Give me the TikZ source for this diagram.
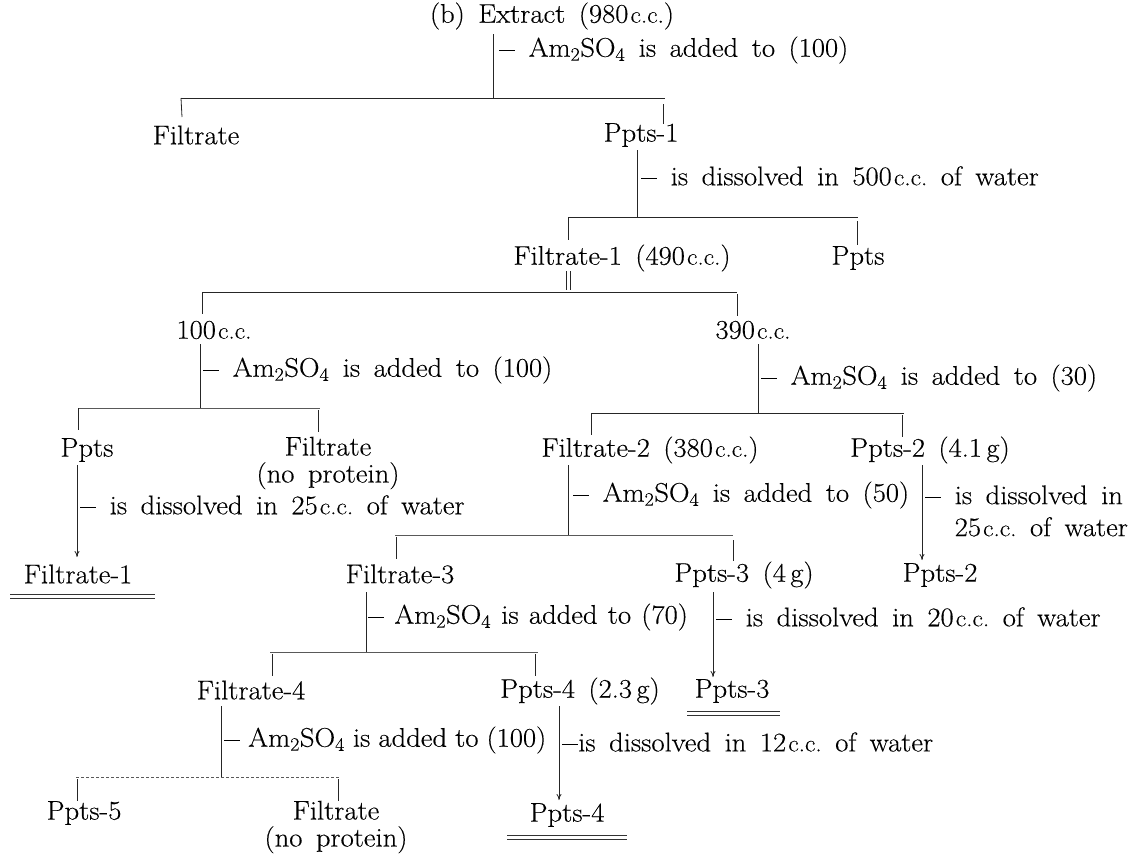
\documentclass[tikz,border=0pt]{standalone}
\usepackage{fontspec}
\setmainfont{Latin Modern Roman}[FakeStretch=1.06,FakeBold=0.3]
\usetikzlibrary{arrows.meta}
\newcommand\myCC{\hspace{0.08em}{\fontsize{24}{24}\selectfont c.c.}}
\newcommand\amso{Am\textsubscript{2}SO\textsubscript{4}}
\newcommand\dsh{\rule[0.24em]{0.6em}{0.6pt}}
\newcommand\myfont{\fontsize{27}{27}\selectfont\spaceskip=0.5em plus 0.1em minus 0.1em\relax}
\newcommand\tightsp{\spaceskip=0.3em plus 0.05em minus 0.05em\relax}
\newcommand\midsp{\spaceskip=0.38em plus 0.05em minus 0.05em\relax}
\begin{document}
\begin{tikzpicture}[x=1pt,y=-1pt,
  every node/.style={inner sep=0pt,outer sep=0pt,font=\myfont},
  txt/.style={anchor=center},
  lbl/.style={anchor=west},
  ln/.style={line width=0.8pt,black!85},
  fade/.style={line width=0.8pt,black!65},
  arr/.style={line width=0.8pt,black!85,-{To[length=6pt,width=5pt]}},
  ul/.style={line width=0.7pt,black!80}]
\useasboundingbox (0,0) rectangle (1137,857);
% ---------- texts ----------
\node[txt] (ext) at (552,16) {(b) Extract (980\myCC)};
\node[lbl] (l0) at (499,50) {\dsh\ \amso\ is added to (100)};
\node[txt] (filt0) at (196,135) {Filtrate};
\node[txt] (p1) at (641,135) {Ppts-1};
\node[lbl] (l1) at (641,176) {\dsh\ is dissolved in 500\myCC\ of water};
\node[txt] (f1) at (622,258) {Filtrate-1 (490\myCC)};
\node[txt] (pp) at (858,258) {Ppts};
\node[txt] (c100) at (214,330) {100\myCC};
\node[txt] (c390) at (753,330) {390\myCC};
\node[lbl] (l3a) at (203,370) {\dsh\ \amso\ is added to (100)};
\node[lbl] (l3b) at (761,378) {\dsh\ \amso\ is added to (30)};
\node[txt] (ppl) at (87,450) {Ppts};
\node[txt,align=center] (fnp) at (328,463) {Filtrate\\(no protein)};
\node[txt] (f2) at (650,450) {Filtrate-2 (380\myCC)};
\node[txt] (p2) at (930,450) {Ppts-2 (4.1\,g)};
\node[lbl] (l4a) at (80,505) {\dsh\ is dissolved in 25\myCC\ of water};
\node[lbl] (l4b) at (573,495) {\dsh\ \amso\ is added to (50)};
\node[lbl,align=left] (l4c) at (925,511) {\dsh\ is dissolved in\\[5pt]\hphantom{\dsh\ }25\myCC\ of water};
\node[txt] (f1b) at (78,574) {Filtrate-1};
\node[txt] (f3) at (400,574) {Filtrate-3};
\node[txt] (p3) at (744,575) {Ppts-3 (4\,g)};
\node[txt] (p2b) at (940,575) {Ppts-2};
\node[lbl] (l5a) at (368,617) {\midsp\dsh\ \amso\ is added to (70)};
\node[lbl] (l5b) at (716,617) {\dsh\ is dissolved in 20\myCC\ of water};
\node[txt] (f4) at (251,690) {Filtrate-4};
\node[txt] (p4) at (580,691) {Ppts-4 (2.3\,g)};
\node[txt] (p3b) at (732,691) {Ppts-3};
\node[lbl] (l6a) at (224,740) {\tightsp\dsh\ \amso\ is added to (100)};
\node[lbl] (l6b) at (562,742) {\dsh is dissolved in 12\myCC\ of water};
\node[txt] (p5) at (84,813) {Ppts-5};
\node[txt,align=center] (fnp2) at (336,827) {Filtrate\\(no protein)};
\node[txt] (p4b) at (567,815) {Ppts-4};
% ---------- coordinates ----------
\coordinate (e1) at (493,34);   \coordinate (e2) at (493,98);
\coordinate (b0a) at (181,98);  \coordinate (b0b) at (665,98);
\coordinate (t0a) at (182,117); \coordinate (t0b1) at (663,104); \coordinate (t0b2) at (663,124);
\coordinate (d1a) at (637,150); \coordinate (d1b) at (637,217);
\coordinate (b1a) at (568,217); \coordinate (b1b) at (858,217);
\coordinate (t1a) at (568,240); \coordinate (t1b1) at (857,221); \coordinate (t1b2) at (857,245);
\coordinate (da1) at (566,271); \coordinate (da2) at (566,290);
\coordinate (db1) at (570,271); \coordinate (db2) at (570,290);
\coordinate (b2a) at (202,292); \coordinate (b2b) at (737,292);
\coordinate (t2a) at (202,314); \coordinate (t2b1) at (737,294); \coordinate (t2b2) at (737,316);
\coordinate (d3a1) at (200,344); \coordinate (d3a2) at (200,408);
\coordinate (b3a) at (78,408);  \coordinate (b3b) at (320,408);
\coordinate (t3a) at (78,430);  \coordinate (t3b1) at (318,410); \coordinate (t3b2) at (318,432);
\coordinate (d3b1) at (758,344); \coordinate (d3b2) at (758,413);
\coordinate (b3c) at (591,413); \coordinate (b3d) at (904,413);
\coordinate (t3c) at (591,435); \coordinate (t3d1) at (902,415); \coordinate (t3d2) at (902,437);
\coordinate (a4a1) at (77,465); \coordinate (a4a2) at (77,557);
\coordinate (d4b1) at (568,465); \coordinate (d4b2) at (568,535);
\coordinate (a4c1) at (922,465); \coordinate (a4c2) at (922,560);
\coordinate (b4a) at (395,535); \coordinate (b4b) at (733,535);
\coordinate (t4a1) at (396,537); \coordinate (t4a2) at (396,559);
\coordinate (t4b1) at (733,540); \coordinate (t4b2) at (733,561);
\coordinate (d5a1) at (366,592); \coordinate (d5a2) at (366,652);
\coordinate (a5b1) at (713,592); \coordinate (a5b2) at (713,677);
\coordinate (b5a) at (270,652); \coordinate (b5b) at (538,652);
\coordinate (t5a1) at (272,654); \coordinate (t5a2) at (272,676);
\coordinate (t5b1) at (535,654); \coordinate (t5b2) at (535,676);
\coordinate (d6a1) at (221,706); \coordinate (d6a2) at (221,777);
\coordinate (a6b1) at (559,706); \coordinate (a6b2) at (559,800);
\coordinate (b6a) at (76,777);  \coordinate (b6b) at (340,777);
\coordinate (t6a1) at (77,779); \coordinate (t6a2) at (77,801);
\coordinate (t6b1) at (338,779); \coordinate (t6b2) at (338,801);
\coordinate (u1a) at (10,594);  \coordinate (u1b) at (155,594);
\coordinate (u1c) at (10,598);  \coordinate (u1d) at (155,598);
\coordinate (u3a) at (687,711); \coordinate (u3b) at (780,711);
\coordinate (u3c) at (687,715); \coordinate (u3d) at (780,715);
\coordinate (u4a) at (507,835); \coordinate (u4b) at (627,835);
\coordinate (u4c) at (507,839); \coordinate (u4d) at (627,839);
% ---------- lines ----------
\draw[ln] (e1) -- (e2);
\draw[ln] (b0a) -- (b0b);
\draw[ln] (b0a) -- (t0a);
\draw[ln] (t0b1) -- (t0b2);
\draw[ln] (d1a) -- (d1b);
\draw[ln] (b1a) -- (b1b);
\draw[ln] (b1a) -- (t1a);
\draw[ln] (t1b1) -- (t1b2);
\draw[ln] (da1) -- (da2);
\draw[ln] (db1) -- (db2);
\draw[ln] (b2a) -- (b2b);
\draw[ln] (b2a) -- (t2a);
\draw[ln] (t2b1) -- (t2b2);
\draw[ln] (d3a1) -- (d3a2);
\draw[fade] (b3a) -- (b3b);
\draw[ln] (b3a) -- (t3a);
\draw[ln] (t3b1) -- (t3b2);
\draw[ln] (d3b1) -- (d3b2);
\draw[ln] (b3c) -- (b3d);
\draw[ln] (b3c) -- (t3c);
\draw[ln] (t3d1) -- (t3d2);
\draw[arr] (a4a1) -- (a4a2);
\draw[ln] (d4b1) -- (d4b2);
\draw[arr] (a4c1) -- (a4c2);
\draw[fade] (b4a) -- (b4b);
\draw[ln] (t4a1) -- (t4a2);
\draw[ln] (t4b1) -- (t4b2);
\draw[ln] (d5a1) -- (d5a2);
\draw[arr] (a5b1) -- (a5b2);
\draw[fade] (b5a) -- (b5b);
\draw[ln] (t5a1) -- (t5a2);
\draw[ln] (t5b1) -- (t5b2);
\draw[ln] (d6a1) -- (d6a2);
\draw[arr] (a6b1) -- (a6b2);
\draw[fade,densely dashed] (b6a) -- (b6b);
\draw[ln] (t6a1) -- (t6a2);
\draw[ln] (t6b1) -- (t6b2);
\draw[ul] (u1a) -- (u1b); \draw[ul] (u1c) -- (u1d);
\draw[ul] (u3a) -- (u3b); \draw[ul] (u3c) -- (u3d);
\draw[ul] (u4a) -- (u4b); \draw[ul] (u4c) -- (u4d);
\end{tikzpicture}
\end{document}
